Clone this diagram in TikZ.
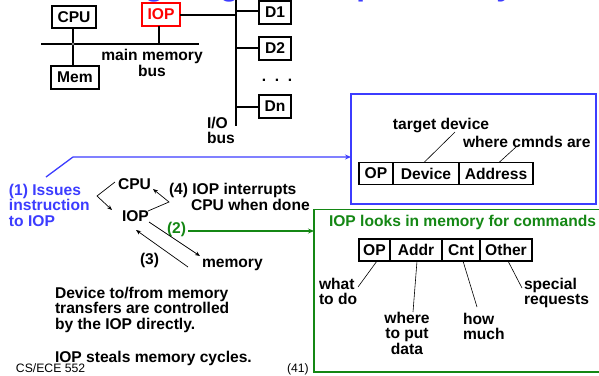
\documentclass[tikz,border=0pt]{standalone}
\usepackage{fontspec}
\setmainfont{Liberation Sans}
\usetikzlibrary{arrows.meta}
\definecolor{slblue}{RGB}{60,60,255}
\definecolor{slgreen}{RGB}{20,135,20}
\definecolor{slred}{RGB}{255,0,0}
\begin{document}
\begin{tikzpicture}[x=1pt,y=-1pt,
  every node/.style={font=\fontsize{15.6}{15.5}\selectfont\bfseries, inner sep=0pt, outer sep=0pt},
  txt/.style={anchor=base west},
  ctxt/.style={anchor=base},
  unit/.style={draw, line width=1.3pt, minimum height=23pt},
  cell/.style={draw, line width=1.3pt, minimum height=22pt, anchor=west},
  wire/.style={line width=1.1pt},
  pointer/.style={line width=0.6pt},
  arr/.style={line width=0.7pt, -{Stealth[length=5pt,width=4pt]}},
  frame/.style={line width=1.5pt}
]
\useasboundingbox (0,0) rectangle (599,375);
\clip (0,0) rectangle (599,375);

% clipped title (only descenders visible)
\node[txt, font=\fontsize{31.5}{32}\selectfont\bfseries, text=slblue] (title) at (78,-4.8) {Delegating I/O Responsibility};

% ---- top block diagram ----
\node[unit, minimum width=44pt, minimum height=22pt] (cpu) at (74,17) {CPU};
\node[unit, draw=slred, text=slred, minimum width=38pt] (iop) at (161,14.5) {IOP};
\node[unit, minimum width=48pt] (mem) at (75,77.5) {Mem};
\node[unit, minimum width=32pt] (d1) at (275,12.5) {D1};
\node[unit, minimum width=32pt] (d2) at (275,48.5) {D2};
\node[unit, minimum width=32pt] (dn) at (275,106.5) {Dn};
\node[ctxt] (dots) at (277,81) {.\ \ .\ \ .};

\coordinate (mbL) at (41,44);
\coordinate (mbR) at (199,44);
\coordinate (junc) at (73,44);
\coordinate (iopb) at (159,44);
\coordinate (ioT) at (236,-2);
\coordinate (ioB) at (236,126);
\coordinate (io1) at (236,11);
\coordinate (io2) at (236,48);
\coordinate (ion) at (236,107);
\coordinate (iopR) at (236,15);

\draw[wire] (mbL) -- (mbR);
\draw[wire] (cpu.south -| junc) -- (mem.north -| junc);
\draw[line width=0.6pt, fill=white] (junc) circle (1.6);
\draw[wire] (iop.south -| iopb) -- (iopb);
\draw[wire] (iop.east |- iopR) -- (iopR);
\draw[wire] (ioT) -- (ioB);
\draw[wire] (io1) -- (d1.west |- io1);
\draw[wire] (io2) -- (d2.west |- io2);
\draw[wire] (ion) -- (dn.west |- ion);

\node[ctxt] (mmb1) at (152,60) {main memory};
\node[ctxt] (mmb2) at (152,76) {bus};
\node[txt] (iob1) at (207,128) {I/O};
\node[txt] (iob2) at (207,143.5) {bus};

% ---- blue box ----
\coordinate (bbTL) at (351,94);
\coordinate (bbBR) at (596,204);
\draw[frame, draw=slblue] (bbTL) rectangle (bbBR);
\node[cell, minimum width=34pt] (op1) at (359,173.5) {OP};
\node[cell, minimum width=66pt] (dev) at (op1.east) {Device};
\node[cell, minimum width=74pt] (adr) at (dev.east) {Address};
\node[ctxt] (tdev) at (441,129) {target device};
\node[txt] (wca) at (463,147) {where cmnds are};
\coordinate (tdevp) at (455,132);
\coordinate (wcap) at (516,147);
\draw[pointer] (tdevp) -- (dev.north -| 424,0);
\draw[pointer] (wcap) -- (adr.north -| 499,0);

% ---- left flow ----
\node[txt, text=slblue] (iss1) at (9,195) {(1) Issues};
\node[txt, text=slblue] (iss2) at (9,210.5) {instruction};
\node[txt, text=slblue] (iss3) at (9,226) {to IOP};
\coordinate (bl1) at (46,177);
\coordinate (bl2) at (73,157);
\draw[line width=1.3pt, draw=slblue, -{Stealth[length=6pt,width=5pt]}] (bl1) -- (bl2) -- (bbTL |- bl2);

\node[txt] (fcpu) at (118,189.5) {CPU};
\node[txt] (fiop) at (122,221.5) {IOP};
\node[txt] (int1) at (169,194.5) {(4) IOP interrupts};
\node[txt] (int2) at (191,210) {CPU when done};
\node[txt, text=slgreen] (two) at (167,233.5) {(2)};
\node[txt] (three) at (140,264.5) {(3)};
\node[txt] (fmem) at (202,267) {memory};

\coordinate (lb1) at (115,182);
\coordinate (lb2) at (97,196);
\coordinate (lb3) at (112,210);
\draw[arr] (lb1) -- (lb2) -- (lb3);
\coordinate (rb1) at (148,211);
\coordinate (rb2) at (169,202);
\coordinate (rb3) at (153,189);
\draw[arr] (rb1) -- (rb2) -- (rb3);
\coordinate (m1) at (149,222);
\coordinate (m2) at (200,256);
\draw[arr] (m1) -- (m2);
\coordinate (m3) at (188,267);
\coordinate (m4) at (136,230);
\draw[arr] (m3) -- (m4);

% ---- green box ----
\coordinate (gbTL) at (314,209.5);
\coordinate (gbBR) at (603,372);
\draw[frame, draw=slgreen] (gbTL) rectangle (gbBR);
\coordinate (g2s) at (188,231);
\draw[line width=1.3pt, draw=slgreen, -{Stealth[length=6pt,width=5pt]}] (g2s) -- (gbTL |- g2s);
\node[txt, text=slgreen] (gtitle) at (329,226) {IOP looks in memory for commands};

\node[cell, minimum width=31pt] (op2) at (359,250) {OP};
\node[cell, minimum width=52pt] (addr) at (op2.east) {Addr};
\node[cell, minimum width=38pt] (cnt) at (addr.east) {Cnt};
\node[cell, minimum width=52pt] (oth) at (cnt.east) {Other};

\node[txt] (wt1) at (319,289) {what};
\node[txt] (wt2) at (319,304.5) {to do};
\node[ctxt] (wp1) at (407,323) {where};
\node[ctxt] (wp2) at (407,338.5) {to put};
\node[ctxt] (wp3) at (407,354) {data};
\node[txt] (hm1) at (463,324) {how};
\node[txt] (hm2) at (463,339.5) {much};
\node[txt] (sr1) at (524,289) {special};
\node[txt] (sr2) at (524,304.5) {requests};

\coordinate (pw) at (358,287);
\coordinate (pa) at (413,312);
\coordinate (pc) at (477,307);
\coordinate (po) at (522,288);
\draw[pointer] (op2.south -| 377,0) -- (pw);
\draw[pointer] (addr.south -| 417,0) -- (pa);
\draw[pointer] (cnt.south -| 463,0) -- (pc);
\draw[pointer] (oth.south -| 508,0) -- (po);

% ---- paragraph ----
\node[txt] (p1) at (55,298) {Device to/from memory};
\node[txt] (p2) at (55,313.5) {transfers are controlled};
\node[txt] (p3) at (55,329) {by the IOP directly.};
\node[txt] (p4) at (55,362) {IOP steals memory cycles.};

\node[txt, font=\fontsize{12.2}{13}\selectfont] (foot) at (16,372.7) {CS/ECE 552};
\node[txt, font=\fontsize{12.2}{13}\selectfont] (pg) at (287,372) {(41)};
\end{tikzpicture}
\end{document}
